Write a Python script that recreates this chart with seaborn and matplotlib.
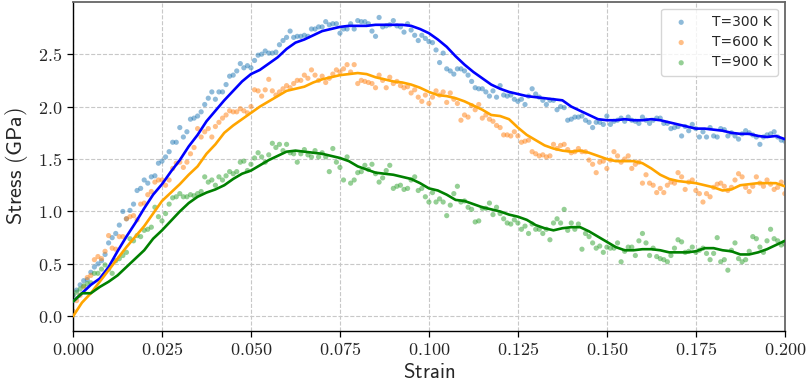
import numpy as np
import pandas as pd
import matplotlib
matplotlib.use("Agg")
import matplotlib.pyplot as plt
import seaborn as sns

# ---------------- data ----------------
labels = ["T=300 K", "T=600 K", "T=900 K"]

# scatter samples, strain 0.000 .. 0.200 step 0.001
strain_pts = [i / 1000 for i in range(201)]
stress_300 = [
    0.20, 0.25, 0.30, 0.34, 0.35, 0.42, 0.47, 0.50, 0.53, 0.59,
    0.70, 0.75, 0.79, 0.87, 1.00, 0.93, 1.01, 1.07, 1.20, 1.22,
    1.30, 1.27, 1.33, 1.34, 1.46, 1.48, 1.52, 1.57, 1.66, 1.66,
    1.80, 1.71, 1.76, 1.88, 1.89, 1.91, 1.95, 2.02, 2.08, 2.14,
    2.07, 2.14, 2.14, 2.21, 2.29, 2.30, 2.34, 2.41, 2.37, 2.39,
    2.37, 2.44, 2.49, 2.50, 2.53, 2.51, 2.51, 2.52, 2.59, 2.63,
    2.66, 2.72, 2.66, 2.67, 2.67, 2.68, 2.67, 2.74, 2.74, 2.76,
    2.76, 2.81, 2.78, 2.79, 2.79, 2.70, 2.74, 2.74, 2.79, 2.74,
    2.82, 2.81, 2.81, 2.79, 2.72, 2.67, 2.85, 2.76, 2.77, 2.78,
    2.82, 2.77, 2.76, 2.71, 2.79, 2.73, 2.68, 2.63, 2.68, 2.65,
    2.62, 2.61, 2.54, 2.42, 2.51, 2.36, 2.34, 2.31, 2.36, 2.36,
    2.34, 2.30, 2.24, 2.18, 2.17, 2.17, 2.14, 2.10, 2.15, 2.09,
    2.20, 2.11, 2.10, 2.11, 2.07, 2.05, 2.07, 2.02, 2.10, 2.17,
    2.12, 2.09, 2.06, 2.02, 2.06, 2.06, 1.97, 2.00, 1.99, 1.87,
    1.88, 1.90, 1.90, 1.91, 1.87, 1.85, 1.80, 1.85, 1.85, 1.83,
    1.91, 1.83, 1.86, 1.87, 1.89, 1.86, 1.90, 1.87, 1.86, 1.84,
    1.90, 1.87, 1.84, 1.87, 1.89, 1.89, 1.84, 1.84, 1.79, 1.80,
    1.81, 1.72, 1.81, 1.77, 1.83, 1.79, 1.71, 1.76, 1.71, 1.80,
    1.72, 1.71, 1.79, 1.78, 1.72, 1.75, 1.72, 1.69, 1.74, 1.77,
    1.75, 1.73, 1.71, 1.64, 1.71, 1.73, 1.74, 1.76, 1.71, 1.68,
    1.67]
stress_600 = [
    0.05, 0.15, 0.20, 0.28, 0.37, 0.39, 0.54, 0.57, 0.55, 0.62,
    0.77, 0.65, 0.64, 0.76, 0.76, 0.93, 0.95, 0.96, 0.92, 1.07,
    1.08, 1.16, 1.19, 1.28, 1.30, 1.30, 1.25, 1.30, 1.41, 1.46,
    1.47, 1.42, 1.47, 1.55, 1.61, 1.79, 1.71, 1.76, 1.79, 1.71,
    1.81, 1.85, 1.89, 1.92, 1.96, 1.95, 1.95, 1.98, 1.96, 1.94,
    2.00, 2.16, 2.15, 2.10, 2.16, 2.26, 2.15, 2.11, 2.14, 2.17,
    2.20, 2.18, 2.22, 2.25, 2.25, 2.30, 2.27, 2.35, 2.30, 2.25,
    2.29, 2.23, 2.27, 2.31, 2.35, 2.33, 2.36, 2.40, 2.33, 2.40,
    2.22, 2.25, 2.24, 2.23, 2.22, 2.18, 2.30, 2.25, 2.18, 2.28,
    2.22, 2.24, 2.20, 2.18, 2.19, 2.13, 2.16, 2.09, 2.05, 2.11,
    2.03, 2.09, 2.15, 2.11, 2.14, 2.04, 2.13, 2.07, 2.03, 1.87,
    1.92, 1.90, 2.01, 1.97, 2.02, 1.89, 1.92, 1.88, 1.86, 1.82,
    1.80, 1.73, 1.73, 1.72, 1.76, 1.72, 1.66, 1.67, 1.68, 1.57,
    1.55, 1.53, 1.54, 1.52, 1.53, 1.64, 1.60, 1.63, 1.64, 1.59,
    1.56, 1.57, 1.60, 1.57, 1.57, 1.49, 1.45, 1.37, 1.47, 1.48,
    1.41, 1.49, 1.57, 1.53, 1.47, 1.50, 1.53, 1.41, 1.45, 1.47,
    1.27, 1.35, 1.27, 1.25, 1.18, 1.22, 1.18, 1.25, 1.28, 1.27,
    1.37, 1.33, 1.21, 1.28, 1.30, 1.20, 1.17, 1.09, 1.17, 1.14,
    1.23, 1.26, 1.27, 1.24, 1.20, 1.23, 1.30, 1.36, 1.33, 1.23,
    1.19, 1.24, 1.33, 1.27, 1.24, 1.30, 1.26, 1.21, 1.23, 1.28,
    1.17]
stress_900 = [
    0.20, 0.23, 0.26, 0.29, 0.31, 0.32, 0.41, 0.41, 0.45, 0.49,
    0.45, 0.41, 0.53, 0.55, 0.58, 0.61, 0.74, 0.72, 0.77, 0.76,
    0.82, 0.83, 0.85, 1.04, 0.95, 0.91, 0.98, 1.07, 1.13, 1.14,
    1.17, 1.14, 1.14, 1.16, 1.15, 1.17, 1.19, 1.33, 1.28, 1.30,
    1.25, 1.33, 1.30, 1.34, 1.38, 1.36, 1.38, 1.47, 1.48, 1.39,
    1.45, 1.51, 1.56, 1.52, 1.47, 1.54, 1.65, 1.61, 1.64, 1.58,
    1.64, 1.56, 1.55, 1.47, 1.55, 1.59, 1.54, 1.52, 1.58, 1.52,
    1.56, 1.52, 1.38, 1.60, 1.47, 1.42, 1.30, 1.52, 1.27, 1.30,
    1.37, 1.38, 1.44, 1.40, 1.45, 1.36, 1.28, 1.32, 1.39, 1.44,
    1.22, 1.24, 1.25, 1.21, 1.22, 1.30, 1.33, 1.20, 1.22, 1.14,
    1.09, 1.18, 1.09, 1.12, 1.09, 0.96, 1.06, 1.17, 1.24, 1.09,
    1.10, 1.04, 1.02, 0.90, 0.91, 1.03, 1.03, 1.08, 0.97, 1.04,
    0.98, 0.93, 0.89, 0.88, 0.92, 0.89, 0.83, 0.86, 0.79, 0.88,
    0.83, 0.83, 0.79, 0.83, 0.73, 0.89, 0.93, 0.89, 1.02, 0.82,
    0.89, 0.83, 0.88, 0.64, 0.79, 0.76, 0.70, 0.65, 0.67, 0.61,
    0.66, 0.65, 0.65, 0.70, 0.52, 0.62, 0.66, 0.66, 0.58, 0.72,
    0.79, 0.70, 0.58, 0.65, 0.57, 0.55, 0.54, 0.52, 0.58, 0.65,
    0.73, 0.71, 0.61, 0.62, 0.66, 0.61, 0.63, 0.65, 0.60, 0.54,
    0.60, 0.75, 0.52, 0.54, 0.44, 0.63, 0.70, 0.55, 0.52, 0.54,
    0.62, 0.76, 0.74, 0.66, 0.61, 0.72, 0.83, 0.74, 0.72, 0.68,
    0.69]

# smoothed curves, strain 0.000 .. 0.200 step 0.0025
strain_fit = [i * 0.0025 for i in range(81)]
fit_300 = [
    0.14, 0.22, 0.30, 0.36, 0.47, 0.62, 0.76, 0.89, 1.03, 1.16,
    1.26, 1.38, 1.49, 1.62, 1.73, 1.86, 1.96, 2.06, 2.15, 2.24,
    2.31, 2.35, 2.41, 2.47, 2.55, 2.61, 2.64, 2.68, 2.72, 2.74,
    2.76, 2.77, 2.77, 2.77, 2.78, 2.78, 2.78, 2.78, 2.77, 2.74,
    2.70, 2.64, 2.57, 2.48, 2.40, 2.33, 2.27, 2.21, 2.17, 2.14,
    2.12, 2.10, 2.09, 2.08, 2.07, 2.06, 2.00, 1.96, 1.92, 1.88,
    1.87, 1.87, 1.88, 1.87, 1.87, 1.88, 1.87, 1.85, 1.83, 1.81,
    1.79, 1.79, 1.78, 1.77, 1.75, 1.74, 1.74, 1.72, 1.71, 1.72,
    1.69]
fit_600 = [
    0.00, 0.13, 0.22, 0.33, 0.44, 0.55, 0.66, 0.76, 0.86, 0.98,
    1.10, 1.18, 1.26, 1.35, 1.43, 1.55, 1.64, 1.75, 1.82, 1.88,
    1.94, 2.00, 2.05, 2.10, 2.15, 2.17, 2.19, 2.23, 2.26, 2.28,
    2.30, 2.31, 2.32, 2.31, 2.28, 2.26, 2.24, 2.23, 2.21, 2.18,
    2.14, 2.11, 2.10, 2.08, 2.05, 2.01, 1.97, 1.92, 1.91, 1.88,
    1.80, 1.73, 1.68, 1.63, 1.60, 1.58, 1.57, 1.58, 1.56, 1.53,
    1.50, 1.48, 1.48, 1.48, 1.46, 1.41, 1.35, 1.31, 1.29, 1.28,
    1.27, 1.25, 1.23, 1.20, 1.21, 1.25, 1.26, 1.27, 1.27, 1.27,
    1.24]
fit_900 = [
    0.14, 0.22, 0.22, 0.28, 0.33, 0.39, 0.47, 0.55, 0.63, 0.74,
    0.82, 0.91, 1.00, 1.08, 1.14, 1.18, 1.21, 1.25, 1.31, 1.36,
    1.39, 1.44, 1.49, 1.53, 1.57, 1.58, 1.57, 1.56, 1.55, 1.53,
    1.51, 1.48, 1.43, 1.40, 1.37, 1.36, 1.35, 1.33, 1.31, 1.27,
    1.22, 1.20, 1.16, 1.11, 1.10, 1.07, 1.04, 1.02, 1.00, 0.97,
    0.95, 0.92, 0.87, 0.84, 0.82, 0.84, 0.85, 0.85, 0.81, 0.76,
    0.71, 0.66, 0.63, 0.63, 0.64, 0.64, 0.63, 0.61, 0.61, 0.61,
    0.62, 0.65, 0.65, 0.63, 0.62, 0.59, 0.59, 0.61, 0.64, 0.68,
    0.72]

x_ticks = [0.000, 0.025, 0.050, 0.075, 0.100, 0.125, 0.150, 0.175, 0.200]
y_ticks = [0.0, 0.5, 1.0, 1.5, 2.0, 2.5]

# ---------------- style ----------------
sns.set_style("ticks")
plt.rcParams["font.family"] = ["DejaVu Sans"]
plt.rcParams["mathtext.fontset"] = "cm"

fig = plt.figure(figsize=(8.07, 3.86), dpi=100)
ax = fig.add_axes([0.0905, 0.1425, 0.882, 0.853])

pt_colors = ["tab:blue", "tab:orange", "tab:green"]
ln_colors = ["blue", "orange", "green"]
pts = [stress_300, stress_600, stress_900]
fits = [fit_300, fit_600, fit_900]

for lab, pc, lc, yp, yf in zip(labels, pt_colors, ln_colors, pts, fits):
    sns.scatterplot(x=strain_pts, y=yp, ax=ax, color=pc, s=14, alpha=0.5,
                    edgecolor="none", label=lab, zorder=2)
    sns.lineplot(x=strain_fit, y=yf, ax=ax, color=lc, linewidth=1.9,
                 legend=False, zorder=3)

ax.set_xlim(0.0, 0.2)
ax.set_ylim(-0.14, 3.0)
ax.set_xticks(x_ticks)
ax.set_yticks(y_ticks)
ax.set_xticklabels([f"${v:.3f}$" for v in x_ticks], fontsize=13)
ax.set_yticklabels([f"${v:.1f}$" for v in y_ticks], fontsize=13)
ax.set_xlabel(r"$\mathsf{Strain}$", fontsize=15, labelpad=2)
ax.set_ylabel(r"$\mathsf{Stress\ (GPa)}$", fontsize=16, labelpad=6)

ax.grid(True, linestyle="--", color="#c8c8c8", linewidth=0.8)
ax.set_axisbelow(True)
for side in ["left", "bottom"]:
    ax.spines[side].set_color("black")
    ax.spines[side].set_linewidth(1.0)
for side in ["top", "right"]:
    ax.spines[side].set_visible(True)
    ax.spines[side].set_color("#666666")
    ax.spines[side].set_linewidth(1.3)
ax.tick_params(axis="both", length=4, width=0.9, color="black")

leg = ax.legend(loc="upper right", fontsize=10, markerscale=1.0,
                frameon=True, framealpha=0.8, edgecolor="#cccccc",
                handletextpad=1.2, borderpad=0.45, labelspacing=0.45)

fig.savefig("out.png", dpi=100)
